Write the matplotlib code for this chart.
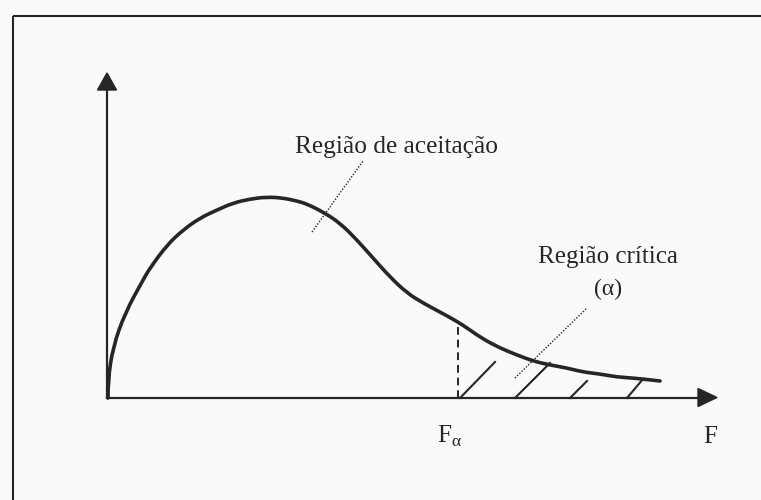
import matplotlib.pyplot as plt
from matplotlib.patches import Polygon, PathPatch
from matplotlib.path import Path

# F-distribution sketch (F units, density units)
curve_f = [0.00, 0.00, 0.05, 0.17, 0.35, 0.42, 0.59, 0.75, 0.92, 1.09, 1.25,
           1.42, 1.59, 1.75, 1.89, 1.99, 2.15, 2.32, 2.49, 2.65, 2.82, 2.99,
           3.15, 3.32, 3.50, 3.59, 3.75, 3.92, 4.09, 4.25, 4.42, 4.59, 4.75,
           4.92, 5.09, 5.25, 5.52]
curve_d = [0.00, 0.18, 0.51, 0.85, 1.18, 1.30, 1.53, 1.68, 1.80, 1.88, 1.95,
           1.99, 2.01, 2.00, 1.97, 1.94, 1.86, 1.75, 1.58, 1.40, 1.21, 1.05,
           0.95, 0.86, 0.76, 0.70, 0.59, 0.50, 0.43, 0.37, 0.33, 0.30, 0.26,
           0.24, 0.21, 0.20, 0.17]

f_alpha = 3.50
f_alpha_d = 0.74

# hatch strokes in the critical region: (f0, d0, f1, d1)
hatch = [(3.52, 0.0, 3.87, 0.36),
         (4.07, 0.0, 4.42, 0.35),
         (4.62, 0.0, 4.79, 0.17),
         (5.19, 0.0, 5.35, 0.19)]

# dotted pointers from labels
pointers = [(2.04, 1.66, 2.55, 2.37),
            (4.07, 0.20, 4.79, 0.90)]

labels = ["Região de aceitação", "Região crítica", "(α)"]
label_pos = [(2.885, 2.45), (5.00, 1.35), (5.00, 1.03)]

INK = '#262626'
plt.rcParams['font.family'] = ['Liberation Serif', 'DejaVu Serif']
plt.rcParams['mathtext.fontset'] = 'custom'
plt.rcParams['mathtext.rm'] = 'Liberation Serif'

fig = plt.figure(figsize=(7.61, 5.0), dpi=100)
fig.patch.set_facecolor('#f9fafa')
ax = fig.add_axes([0, 0, 1, 1])
ax.set_facecolor('#f9fafa')
ax.set_xlim(-1.08, 6.53)
ax.set_ylim(-1.02, 3.98)
ax.axis('off')

# frame (top and left edges of the scanned box)
ax.plot([-0.95, 6.6], [3.82, 3.82], color=INK, lw=1.5, solid_capstyle='butt')
ax.plot([-0.95, -0.95], [3.82, -1.1], color=INK, lw=1.5, solid_capstyle='butt')

# axes with arrow heads
ax.plot([-0.01, -0.01], [0, 3.10], color=INK, lw=1.6)
ax.plot([-0.01, 5.92], [0.005, 0.005], color=INK, lw=1.6)
ax.add_patch(Polygon([[-0.105, 3.08], [0.085, 3.08], [-0.01, 3.25]],
                     closed=True, color=INK))
ax.add_patch(Polygon([[5.90, 0.095], [5.90, -0.085], [6.09, 0.005]],
                     closed=True, color=INK))

# density curve, drawn as a smooth quadratic path through the read points
pts = list(zip(curve_f, curve_d))
verts = [pts[0]]
codes = [Path.MOVETO]
for i in range(1, len(pts) - 1):
    mid = ((pts[i][0] + pts[i + 1][0]) / 2, (pts[i][1] + pts[i + 1][1]) / 2)
    verts += [pts[i], mid]
    codes += [Path.CURVE3, Path.CURVE3]
verts.append(pts[-1])
codes.append(Path.LINETO)
ax.add_patch(PathPatch(Path(verts, codes), facecolor='none', edgecolor=INK,
                       lw=2.6, capstyle='round'))

# F alpha dashed line
ax.plot([f_alpha, f_alpha], [0, f_alpha_d], color=INK, lw=1.4,
        linestyle=(0, (4, 2.5)))

for x0, y0, x1, y1 in hatch:
    ax.plot([x0, x1], [y0, y1], color=INK, lw=1.5)

for x0, y0, x1, y1 in pointers:
    ax.plot([x0, x1], [y0, y1], color=INK, lw=1.0, linestyle=(0, (1, 1.2)))

sizes = [18.3, 18, 17]
for txt, (x, y), fs in zip(labels, label_pos, sizes):
    ax.text(x, y, txt, ha='center', va='baseline', fontsize=fs, color=INK)

ax.text(3.29, -0.45, r'F$_\mathregular{\alpha}$', ha='left', va='baseline',
        fontsize=18, color=INK)
ax.text(6.025, -0.45, 'F', ha='center', va='baseline', fontsize=18, color=INK)

fig.savefig('out.png', dpi=100, facecolor=fig.get_facecolor())
